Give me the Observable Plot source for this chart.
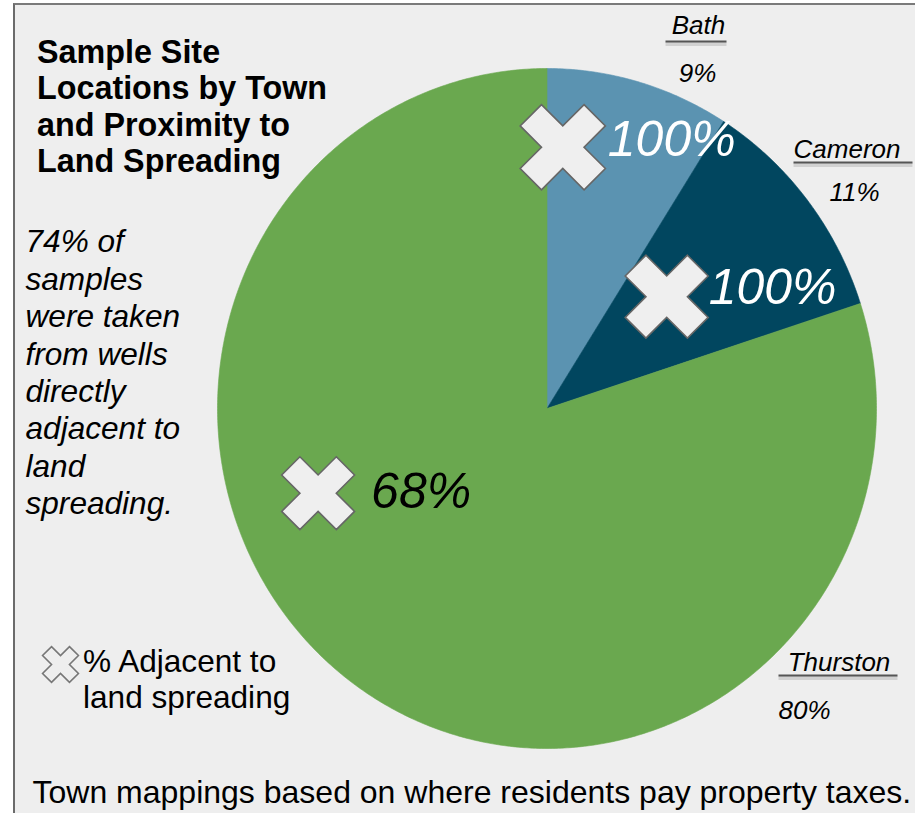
<!DOCTYPE html>
<html>
<head>
<meta charset="utf-8">
<script src="https://cdn.jsdelivr.net/npm/d3@7"></script>
<script src="https://cdn.jsdelivr.net/npm/@observablehq/plot@0.6"></script>
<style>
  html, body { margin: 0; padding: 0; background: #ffffff; }
  #wrap { position: relative; width: 915px; height: 813px; overflow: hidden;
          font-family: "Liberation Sans", Arial, sans-serif; color: #000; }
  #panel { position: absolute; left: 13px; top: 3px; right: 0; bottom: 0; background: #eeeeee;
           border-left: 2px solid #6b6b6b; border-top: 2px solid #7a7a7a; }
  #chart { position: absolute; left: 0; top: 0; }
  .txt { position: absolute; white-space: nowrap; }
  #title { left: 37px; top: 34px; font-size: 32.3px; line-height: 36.3px; font-weight: bold; }
  #note { left: 25.5px; top: 223.4px; font-size: 31.6px; line-height: 37.4px; font-style: italic; }
  #legend { left: 83px; top: 643px; font-size: 31.6px; line-height: 36px; }
  #caption { left: 32.5px; top: 774px; font-size: 32px; line-height: 36px; }
</style>
</head>
<body>
<div id="wrap">
  <div id="panel"></div>
  <div id="chart"></div>
  <div id="title" class="txt">Sample Site<br>Locations by Town<br>and Proximity to<br>Land Spreading</div>
  <div id="note" class="txt">74% of<br>samples<br>were taken<br>from wells<br>directly<br>adjacent to<br>land<br>spreading.</div>
  <div id="legend" class="txt">% Adjacent to<br>land spreading</div>
  <div id="caption" class="txt">Town mappings based on where residents pay property taxes.</div>
</div>
<script>
// ---- data ----
const towns = ["Bath", "Cameron", "Thurston"];
const shares = [9, 11, 80];          // % of sample sites per town
const adjacent = [100, 100, 68];     // % adjacent to land spreading

// ---- styles ----
const sliceColors = ["#5b93b1", "#01465f", "#6aa84f"];
const innerLabelColors = ["#ffffff", "#ffffff", "#000000"];
const FONT = "Liberation Sans, Arial, sans-serif";

// ---- layout ----
const W = 915, H = 813;
const CX = 546.5, CY = 408, RX = 329.5, RY = 340;   // pie centre / radii in px
const sx = p => (p - CX) / RX, sy = p => (CY - p) / RY;
// marker placement inside each slice: fraction of slice angle, radial fraction, symbol radius, label offsets
const markerLayout = [
  {t: 0.11, r: 0.77, size: 38, dx: 45, dy: -7.7},
  {t: 0.39, r: 0.49, size: 37, dx: 42, dy: -9},
  {t: 0.619, r: 0.738, size: 32.5, dx: 53, dy: -0.7}
];
// outer labels (px)
const outerLayout = [
  {nameX: 698, nameY: 33, pctX: 697, pctY: 81, ul1: 665, ul2: 726, ulY: 41},
  {nameX: 846.5, nameY: 157, pctX: 854, pctY: 200, ul1: 793, ul2: 912, ulY: 162},
  {nameX: 838.5, nameY: 670, pctX: 804, pctY: 718, ul1: 778, ul2: 897, ulY: 675}
];

// ---- derived geometry ----
const total = d3.sum(shares);
let acc = 0;
const slices = towns.map((town, i) => {
  const a0 = acc / total * 2 * Math.PI; acc += shares[i];
  const a1 = acc / total * 2 * Math.PI;
  return {town, share: shares[i], adj: adjacent[i], a0, a1, i};
});
const piePts = slices.flatMap(s => {
  const n = Math.max(2, Math.ceil((s.a1 - s.a0) / (Math.PI / 360)));
  const pts = [{town: s.town, x: 0, y: 0}];
  for (let k = 0; k <= n; k++) {
    const a = s.a0 + (s.a1 - s.a0) * k / n;
    pts.push({town: s.town, x: Math.sin(a), y: Math.cos(a)});
  }
  pts.push({town: s.town, x: 0, y: 0});
  return pts;
});
const markers = slices.map((s, i) => {
  const L = markerLayout[i];
  const a = s.a0 + (s.a1 - s.a0) * L.t;
  return {...s, x: L.r * Math.sin(a), y: L.r * Math.cos(a), size: L.size};
});
const outer = slices.map((s, i) => ({...s, ...outerLayout[i]}));

// thick "X" symbol (a cross rotated 45°)
const xSymbol = {
  draw(ctx, size) {
    const w = Math.sqrt(size / 20), L = 3 * w, c = Math.SQRT1_2;
    const pts = [[-w,-L],[w,-L],[w,-w],[L,-w],[L,w],[w,w],[w,L],[-w,L],[-w,w],[-L,w],[-L,-w],[-w,-w]];
    pts.forEach(([px, py], k) => {
      const x = (px - py) * c, y = (px + py) * c;
      k ? ctx.lineTo(x, y) : ctx.moveTo(x, y);
    });
    ctx.closePath();
  }
};

const marks = [
  Plot.line(piePts, {x: "x", y: "y", z: "town", fill: "town", stroke: "town", strokeWidth: 0.6}),
  Plot.dot(markers, {x: "x", y: "y", r: "size", symbol: xSymbol, fill: "#efefef", stroke: "#666666", strokeWidth: 1.6}),
  ...markers.map((m, i) => Plot.text([m], {
    x: "x", y: "y", text: d => d.adj + "%", textAnchor: "start",
    dx: markerLayout[i].dx, dy: markerLayout[i].dy,
    fill: innerLabelColors[i], fontSize: 50, fontStyle: "italic", fontFamily: FONT
  })),
  // outer labels: underline shadow + underline
  Plot.link(outer, {x1: d => sx(d.ul1), x2: d => sx(d.ul2), y1: d => sy(d.ulY), y2: d => sy(d.ulY),
    stroke: "#9a9a9a", strokeWidth: 4, strokeOpacity: 0.35, dy: 2.5}),
  Plot.link(outer, {x1: d => sx(d.ul1), x2: d => sx(d.ul2), y1: d => sy(d.ulY), y2: d => sy(d.ulY),
    stroke: "#555555", strokeWidth: 2}),
  Plot.text(outer, {x: d => sx(d.nameX), y: d => sy(d.nameY), text: "town", dy: -8.3,
    fontSize: 26, fontStyle: "italic", fontFamily: FONT, fill: "#000"}),
  Plot.text(outer, {x: d => sx(d.pctX), y: d => sy(d.pctY), text: d => d.share + "%", dy: -8.3,
    fontSize: 26, fontStyle: "italic", fontFamily: FONT, fill: "#000"}),
  // legend symbol
  Plot.dot([0], {frameAnchor: "top-left", dx: 60, dy: 664, r: 16, symbol: xSymbol,
    fill: "none", stroke: "#777777", strokeWidth: 1.6})
];

const chart = Plot.plot({
  width: W, height: H, margin: 0,
  x: {domain: [sx(0), sx(W)], axis: null},
  y: {domain: [sy(H), sy(0)], axis: null},
  color: {domain: towns, range: sliceColors},
  r: {type: "identity"},
  marks
});
chart.style.background = "transparent";
chart.style.overflow = "visible";
chart.style.fontFamily = FONT;
document.getElementById("chart").appendChild(chart);
</script>
</body>
</html>
